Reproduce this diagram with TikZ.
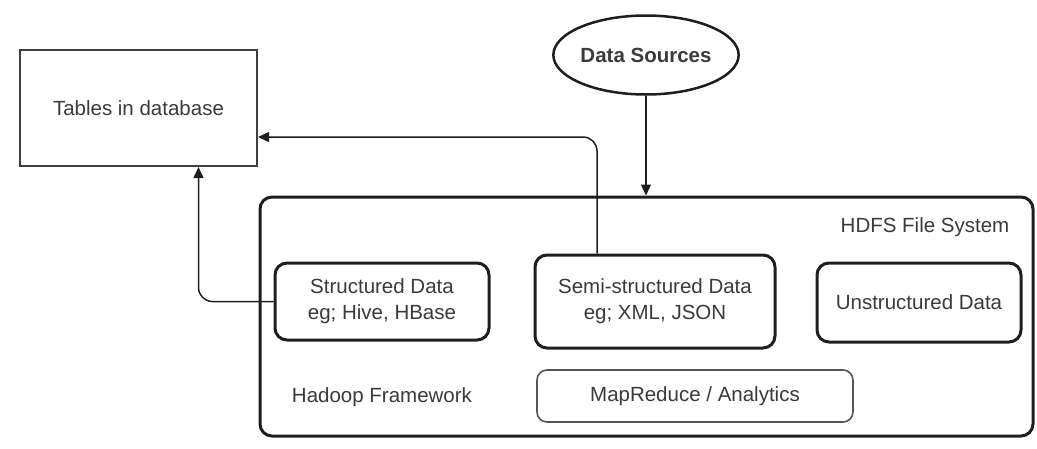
\documentclass[tikz,border=0pt]{standalone}
\usepackage{fontspec}
\setmainfont{Liberation Sans}
\usetikzlibrary{arrows.meta,shapes.geometric}
\definecolor{txt}{HTML}{3A3A3A}
\definecolor{edge}{HTML}{1E1E1E}

\tikzset{
  box/.style={draw=edge, line width=3pt, rounded corners=12pt, inner sep=0pt, align=center},
  thinbox/.style={draw=edge!75, line width=1.6pt, rounded corners=10pt, inner sep=0pt},
  link/.style={draw=edge, line width=1.5pt, -{Triangle[length=11pt,width=10pt]}},
}

\begin{document}
\begin{tikzpicture}[x=1pt,y=-1pt,font=\fontsize{20.5pt}{26pt}\selectfont,text=txt]
	\useasboundingbox (0,0) rectangle (1037,448);
	% outside the cluster
	\node[draw=edge!85, line width=2pt, minimum width=237pt, minimum height=116pt] (tables) at (138.5,108) {Tables in database};
	\node[draw=edge, line width=2.5pt, ellipse, inner sep=0pt, minimum width=163pt, minimum height=79pt,
		font=\fontsize{20.5pt}{26pt}\selectfont\bfseries] (src) at (646,55) {Data Sources};
	% hdfs
	\node[box, minimum width=773pt, minimum height=239pt] (hdfs) at (646.5,316.5) {};
	\node (hdfslbl) at (925,227) {HDFS File System};
	\node[box, minimum width=214pt, minimum height=77pt] (struct) at (382,301.5) {Structured Data\\eg; Hive, HBase};
	\node[box, minimum width=240pt, minimum height=93pt] (semi) at (655,301.5) {Semi-structured Data\\eg; XML, JSON};
	\node[box, minimum width=204pt, minimum height=79pt] (unstruct) at (919,302.5) {Unstructured Data};
	\node (hadoop) at (382,397) {Hadoop Framework};
	\node[thinbox, minimum width=316pt, minimum height=52pt] (mapred) at (695,396) {MapReduce / Analytics};
	% connectors
	\draw[link] (src.south) -- (src.south |- hdfs.north);
	\draw[link, rounded corners=14pt] ([xshift=-58pt]semi.north) |- ([yshift=-29pt]tables.east);
	\draw[link, rounded corners=14pt] (struct.west) -| ([xshift=60pt]tables.south);
\end{tikzpicture}
\end{document}
